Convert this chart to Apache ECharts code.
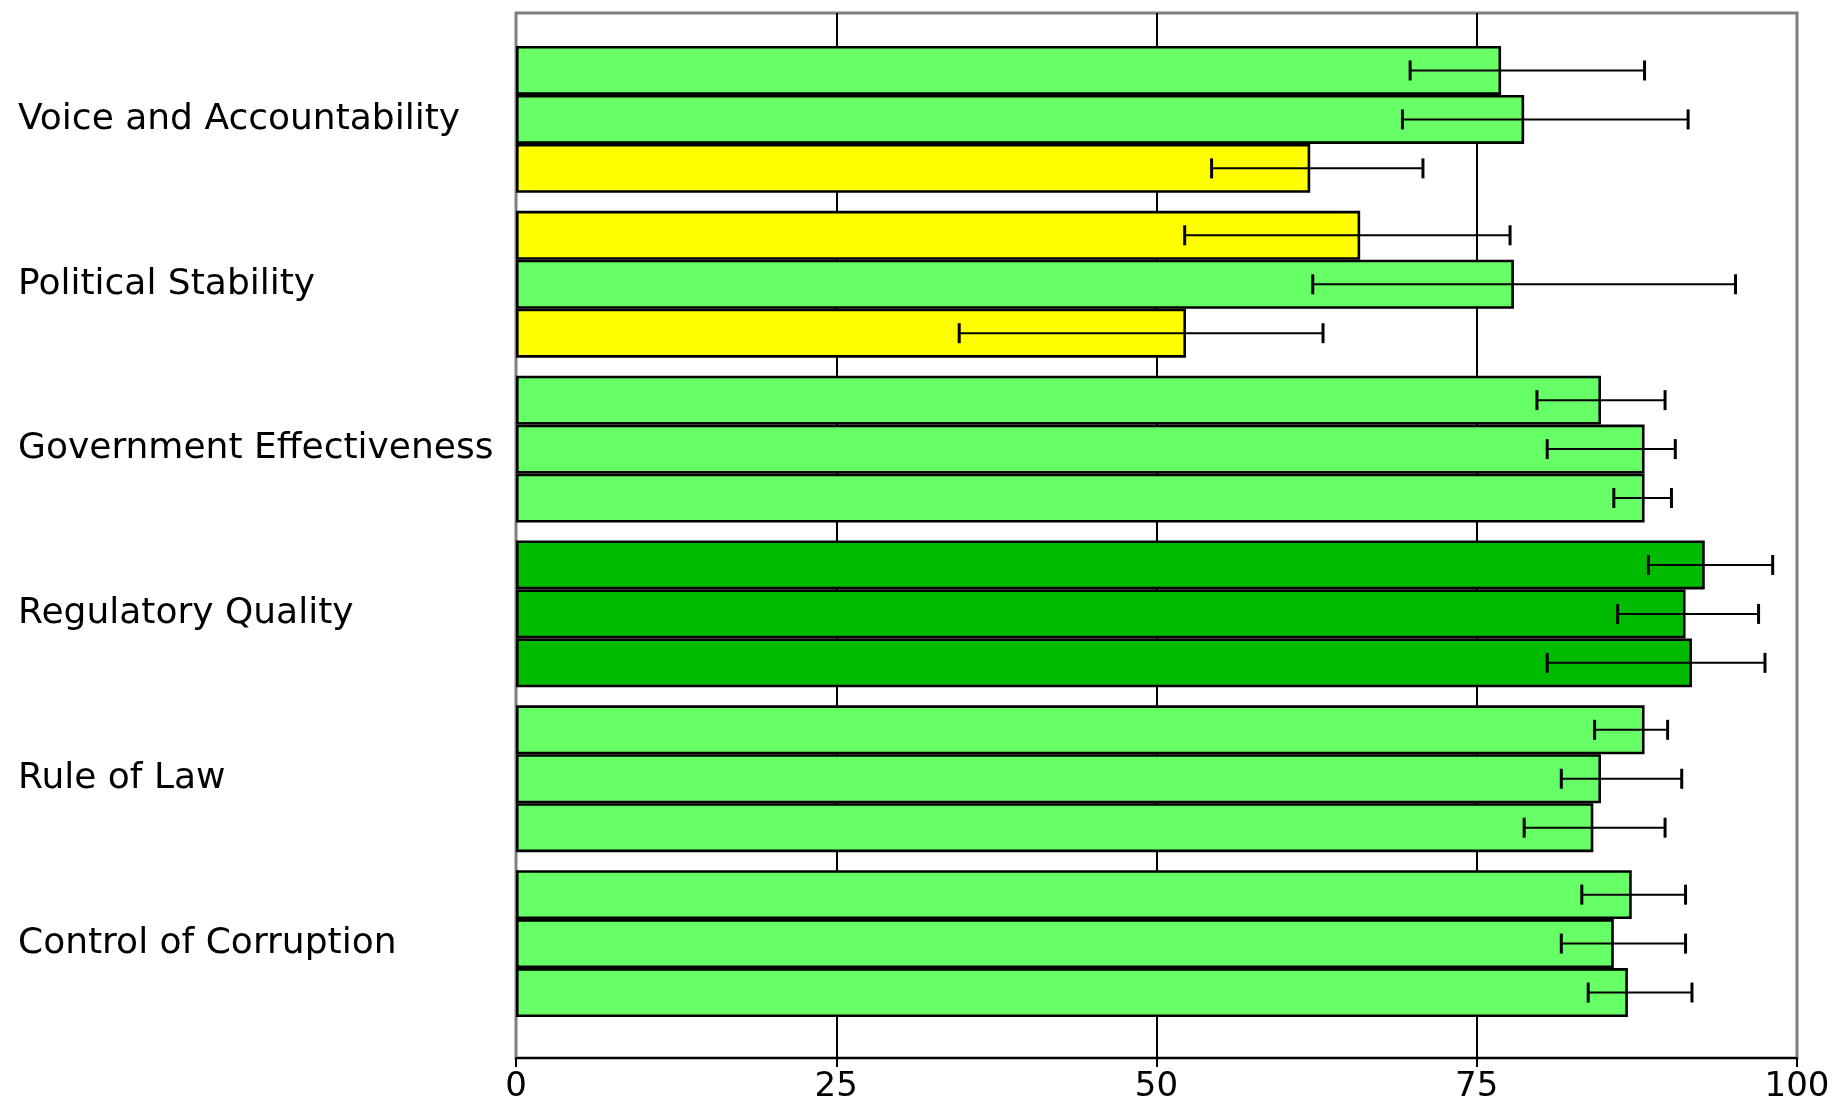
<!DOCTYPE html>
<html><head><meta charset="utf-8">
<script src="https://cdn.jsdelivr.net/npm/echarts@6/dist/echarts.min.js"></script>
<style>html,body{margin:0;padding:0;background:#fff}#c{width:1835px;height:1104px}</style>
</head><body><div id="c"></div>
<script>
// ---- data ----
const categories = ['Voice and Accountability', 'Political Stability', 'Government Effectiveness', 'Regulatory Quality', 'Rule of Law', 'Control of Corruption'];
const xTicks = [0, 25, 50, 75, 100];
// three bars per category, top to bottom
const bar1 = [76.9, 65.9, 84.7, 92.8, 88.1, 87.1];
const bar2 = [78.7, 77.9, 88.1, 91.3, 84.7, 85.7];
const bar3 = [62.0, 52.3, 88.1, 91.8, 84.1, 86.8];
const low1 = [69.8, 52.2, 79.7, 88.4, 84.2, 83.2];
const high1 = [88.1, 77.6, 89.7, 98.1, 89.9, 91.3];
const low2 = [69.2, 62.2, 80.5, 86.0, 81.6, 81.6];
const high2 = [91.5, 95.2, 90.5, 97.0, 91.0, 91.3];
const low3 = [54.3, 34.6, 85.7, 80.5, 78.7, 83.7];
const high3 = [70.8, 63.0, 90.2, 97.5, 89.7, 91.8];

// ---- styling ----
const FONT = 'DejaVu Sans';
const BAR_FRAC = 0.297;
function rankColor(v) {
  if (v >= 90) return '#00BB00';
  if (v >= 75) return '#66FF66';
  return '#FFFF00';
}
const bars = [bar1, bar2, bar3];
const lows = [low1, low2, low3];
const highs = [high1, high2, high3];

const errData = [];
for (let k = 0; k < 3; k++) {
  for (let i = 0; i < categories.length; i++) {
    errData.push([i, lows[k][i], highs[k][i], k]);
  }
}

const barSeries = bars.map(function (arr, k) {
  return {
    type: 'bar',
    xAxisIndex: 0, yAxisIndex: 0,
    barWidth: (BAR_FRAC * 100) + '%',
    barGap: '0%',
    z: 2,
    silent: true,
    data: arr.map(function (v) {
      return { value: v, itemStyle: { color: rankColor(v) } };
    }),
    itemStyle: { borderColor: '#000', borderWidth: 2.6 }
  };
});

const chart = echarts.init(document.getElementById('c'), null, { renderer: 'canvas' });
chart.setOption({
  animation: false,
  backgroundColor: '#fff',
  grid: [
    { left: 516, right: 38, top: 37, bottom: 78, containLabel: false },
    { left: 516, right: 38, top: 13, bottom: 45, containLabel: false, show: true,
      borderColor: '#808080', borderWidth: 3, backgroundColor: 'transparent' }
  ],
  xAxis: [
    { gridIndex: 0, type: 'value', min: 0, max: 100, show: false },
    { gridIndex: 1, type: 'value', min: xTicks[0], max: xTicks[xTicks.length - 1],
      interval: xTicks[1] - xTicks[0],
      axisLine: { show: true, lineStyle: { color: '#000', width: 2 } },
      axisTick: { show: true, length: 9, lineStyle: { color: '#000', width: 2 } },
      axisLabel: { color: '#000', fontSize: 34, fontFamily: FONT, margin: 12 },
      splitLine: { show: true, showMinLine: false, showMaxLine: false, lineStyle: { color: '#000', width: 2 } }
    }
  ],
  yAxis: [
    { gridIndex: 0, type: 'category', data: categories, inverse: true,
      axisLine: { show: false }, axisTick: { show: false }, splitLine: { show: false },
      axisLabel: { align: 'left', margin: 498, color: '#000', fontSize: 36, fontFamily: FONT, padding: [0, 0, 6, 0] }
    },
    { gridIndex: 1, type: 'value', show: false, splitLine: { show: false } }
  ],
  series: barSeries.concat([{
    type: 'custom',
    xAxisIndex: 0, yAxisIndex: 0,
    z: 3,
    silent: true,
    encode: { x: [1, 2], y: 0 },
    data: errData,
    renderItem: function (params, api) {
      const cat = api.value(0), lo = api.value(1), hi = api.value(2), k = api.value(3);
      const band = api.size([0, 1])[1];
      const bw = band * BAR_FRAC;
      const yc = api.coord([0, cat])[1] + (k - 1) * bw;
      const x1 = api.coord([lo, cat])[0];
      const x2 = api.coord([hi, cat])[0];
      const cap = 10;
      return {
        type: 'group',
        children: [
          { type: 'line', shape: { x1: x1, y1: yc, x2: x2, y2: yc }, style: { stroke: '#000', lineWidth: 2 } },
          { type: 'line', shape: { x1: x1, y1: yc - cap, x2: x1, y2: yc + cap }, style: { stroke: '#000', lineWidth: 3 } },
          { type: 'line', shape: { x1: x2, y1: yc - cap, x2: x2, y2: yc + cap }, style: { stroke: '#000', lineWidth: 3 } }
        ]
      };
    }
  }])
});
</script>
</body></html>
